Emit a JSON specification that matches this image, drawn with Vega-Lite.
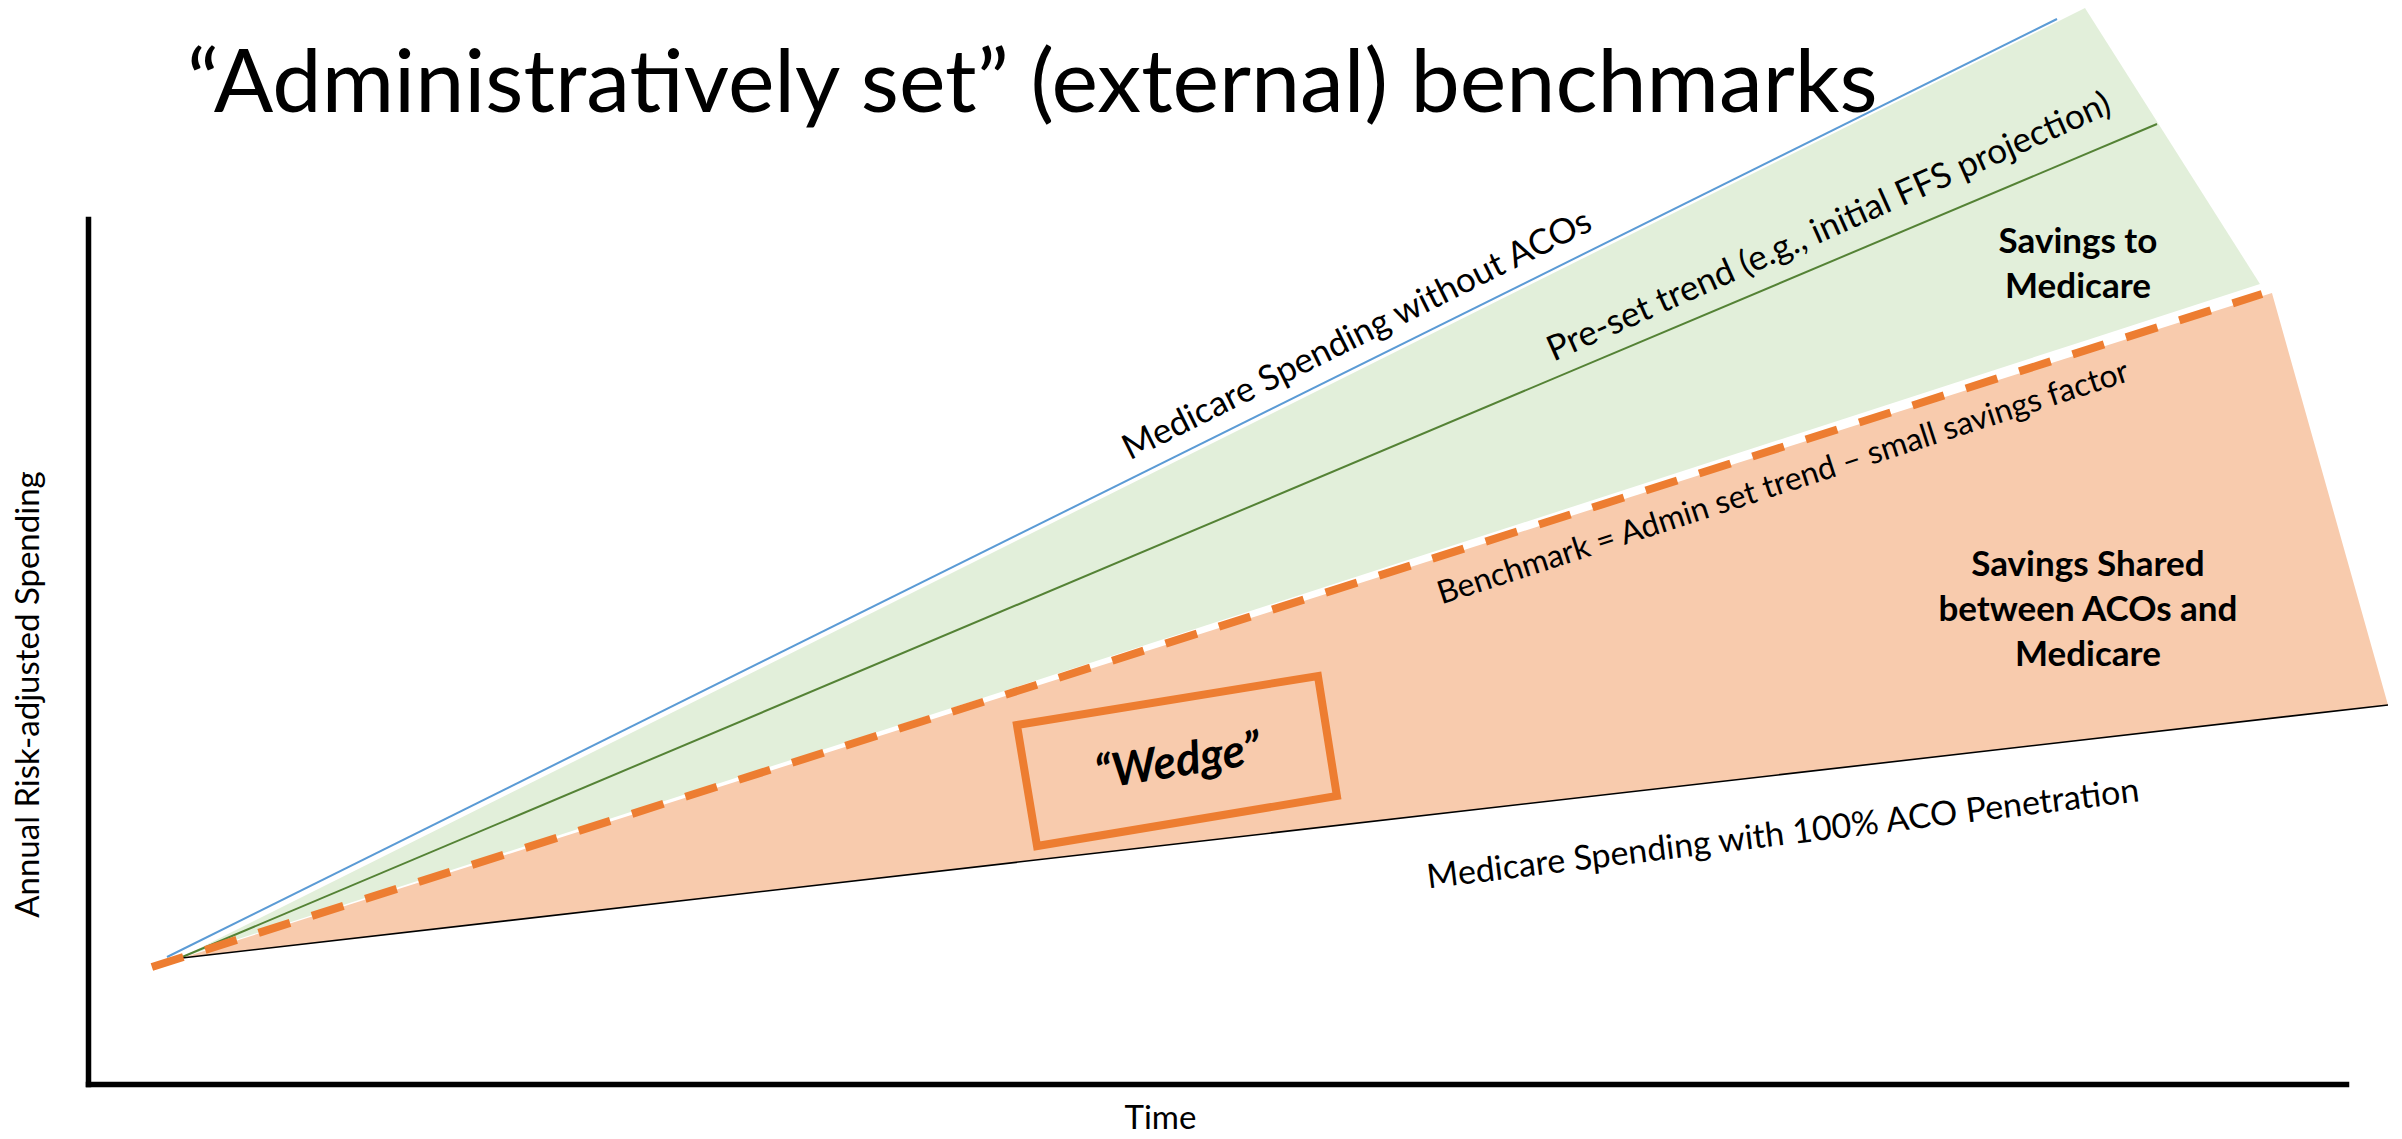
{
  "$schema": "https://vega.github.io/schema/vega-lite/v6.json",
  "width": 2258,
  "height": 865,
  "autosize": {"type": "none"},
  "padding": {"left": 88, "top": 219, "right": 56, "bottom": 55},
  "background": "white",
  "config": {"view": {"stroke": null}, "font": "Lato"},
  "title": {
    "text": "“Administratively set” (external) benchmarks",
    "anchor": "start",
    "frame": "group",
    "font": "Lato",
    "fontSize": 88,
    "fontWeight": "normal",
    "color": "black",
    "baseline": "alphabetic",
    "dx": 99,
    "offset": -192
  },
  "datasets": {
    "areas": [
      {"region": "Savings to Medicare", "t": 4.07, "s": 14.57, "s2": 14.57},
      {"region": "Savings to Medicare", "t": 88.44, "s": 124.39, "s2": 85.93},
      {"region": "Savings to Medicare", "t": 96.19, "s": 92.49, "s2": 92.49},
      {"region": "Savings Shared", "t": 4.16, "s": 14.57, "s2": 14.57},
      {"region": "Savings Shared", "t": 96.72, "s": 91.45, "s2": 42.28},
      {"region": "Savings Shared", "t": 101.86, "s": 43.82, "s2": 43.82}
    ],
    "lines": [
      {"series": "Medicare Spending without ACOs", "t": 3.5, "s": 14.68},
      {"series": "Medicare Spending without ACOs", "t": 87.2, "s": 123.12},
      {"series": "Pre-set trend", "t": 4.07, "s": 14.57},
      {"series": "Pre-set trend", "t": 91.63, "s": 110.98},
      {"series": "Benchmark", "t": 2.83, "s": 13.53},
      {"series": "Benchmark", "t": 96.28, "s": 91.33},
      {"series": "Medicare Spending with 100% ACO Penetration", "t": 4.16, "s": 14.57},
      {"series": "Medicare Spending with 100% ACO Penetration", "t": 101.86, "s": 43.82}
    ],
    "wedge": [
      {"corner": 1, "t": 41.14, "s": 41.5},
      {"corner": 2, "t": 54.47, "s": 47.17},
      {"corner": 3, "t": 55.31, "s": 33.29},
      {"corner": 4, "t": 42.03, "s": 27.51}
    ],
    "labels": [
      {"id": "blue", "label": "Medicare Spending without ACOs", "t": 56.2, "s": 86.59},
      {"id": "green", "label": "Pre-set trend (e.g., initial FFS projection)", "t": 77.1, "s": 99.08},
      {"id": "bench", "label": "Benchmark = Admin set trend – small savings factor", "t": 75.07, "s": 69.48},
      {"id": "black", "label": "Medicare Spending with 100% ACO Penetration", "t": 75.07, "s": 28.79},
      {"id": "wedge", "label": "“Wedge”", "t": 48.27, "s": 37.2},
      {"id": "sav1", "label": "Savings to\nMedicare", "t": 88.13, "s": 97.34},
      {"id": "sav2", "label": "Savings Shared\nbetween ACOs and\nMedicare", "t": 88.57, "s": 60.0}
    ]
  },
  "encoding": {
    "x": {
      "field": "t",
      "type": "quantitative",
      "scale": {"domain": [0, 100], "nice": false, "zero": false},
      "axis": {
        "title": "Time",
        "ticks": false,
        "labels": false,
        "grid": false,
        "domainColor": "black",
        "domainWidth": 5.5,
        "domainCap": "square",
        "titleFont": "Lato",
        "titleFontSize": 33,
        "titleFontWeight": "normal",
        "titleColor": "black",
        "titleX": 1072,
        "titleY": 34,
        "titleAlign": "center",
        "titleBaseline": "middle"
      }
    },
    "y": {
      "field": "s",
      "type": "quantitative",
      "scale": {"domain": [0, 100], "nice": false, "zero": false},
      "axis": {
        "title": "Annual Risk-adjusted Spending",
        "ticks": false,
        "labels": false,
        "grid": false,
        "domainColor": "black",
        "domainWidth": 5.5,
        "domainCap": "square",
        "titleFont": "Lato",
        "titleFontSize": 33,
        "titleFontWeight": "normal",
        "titleColor": "black",
        "titleAngle": 270,
        "titleX": -60,
        "titleY": 475,
        "titleAlign": "center",
        "titleBaseline": "middle"
      }
    }
  },
  "layer": [
    {
      "data": {"name": "areas"},
      "transform": [{"filter": "datum.region === 'Savings to Medicare'"}],
      "mark": {"type": "area", "color": "#E2EFDA", "opacity": 1},
      "encoding": {"y2": {"field": "s2"}}
    },
    {
      "data": {"name": "areas"},
      "transform": [{"filter": "datum.region === 'Savings Shared'"}],
      "mark": {"type": "area", "color": "#F8CBAD", "opacity": 1},
      "encoding": {"y2": {"field": "s2"}}
    },
    {
      "data": {"name": "lines"},
      "transform": [{"filter": "datum.series === 'Medicare Spending without ACOs'"}],
      "mark": {"type": "line", "color": "#5B9BD5", "strokeWidth": 2},
      "encoding": {}
    },
    {
      "data": {"name": "lines"},
      "transform": [{"filter": "datum.series === 'Pre-set trend'"}],
      "mark": {"type": "line", "color": "#548235", "strokeWidth": 2},
      "encoding": {}
    },
    {
      "data": {"name": "lines"},
      "transform": [{"filter": "datum.series === 'Medicare Spending with 100% ACO Penetration'"}],
      "mark": {"type": "line", "color": "black", "strokeWidth": 1.6},
      "encoding": {}
    },
    {
      "data": {"name": "lines"},
      "transform": [{"filter": "datum.series === 'Benchmark'"}],
      "mark": {"type": "line", "color": "#ED7D31", "strokeWidth": 8, "strokeDash": [33, 23], "strokeCap": "butt"},
      "encoding": {}
    },
    {
      "data": {"name": "wedge"},
      "mark": {"type": "line", "color": "#ED7D31", "strokeWidth": 8, "interpolate": "linear-closed", "strokeJoin": "miter"},
      "encoding": {"order": {"field": "corner", "type": "quantitative"}}
    },
    {
      "data": {"name": "labels"},
      "transform": [{"filter": "datum.id === 'blue'"}],
      "mark": {"type": "text", "font": "Lato", "fontSize": 35, "angle": 333.5, "align": "center", "baseline": "middle", "color": "black"},
      "encoding": {"text": {"field": "label"}}
    },
    {
      "data": {"name": "labels"},
      "transform": [{"filter": "datum.id === 'green'"}],
      "mark": {"type": "text", "font": "Lato", "fontSize": 35, "angle": 336, "align": "center", "baseline": "middle", "color": "black"},
      "encoding": {"text": {"field": "label"}}
    },
    {
      "data": {"name": "labels"},
      "transform": [{"filter": "datum.id === 'bench'"}],
      "mark": {"type": "text", "font": "Lato", "fontSize": 32, "angle": 342, "align": "center", "baseline": "middle", "color": "black"},
      "encoding": {"text": {"field": "label"}}
    },
    {
      "data": {"name": "labels"},
      "transform": [{"filter": "datum.id === 'black'"}],
      "mark": {"type": "text", "font": "Lato", "fontSize": 34, "angle": 353, "align": "center", "baseline": "middle", "color": "black"},
      "encoding": {"text": {"field": "label"}}
    },
    {
      "data": {"name": "labels"},
      "transform": [{"filter": "datum.id === 'wedge'"}],
      "mark": {"type": "text", "font": "Lato", "fontSize": 46, "fontWeight": "bold", "fontStyle": "italic", "angle": 351, "align": "center", "baseline": "middle", "color": "black"},
      "encoding": {"text": {"field": "label"}}
    },
    {
      "data": {"name": "labels"},
      "transform": [{"filter": "datum.id === 'sav1' || datum.id === 'sav2'"}],
      "mark": {"type": "text", "font": "Lato", "fontSize": 35, "fontWeight": "bold", "lineBreak": "\n", "lineHeight": 45, "align": "center", "baseline": "middle", "color": "black"},
      "encoding": {"text": {"field": "label"}}
    }
  ]
}
